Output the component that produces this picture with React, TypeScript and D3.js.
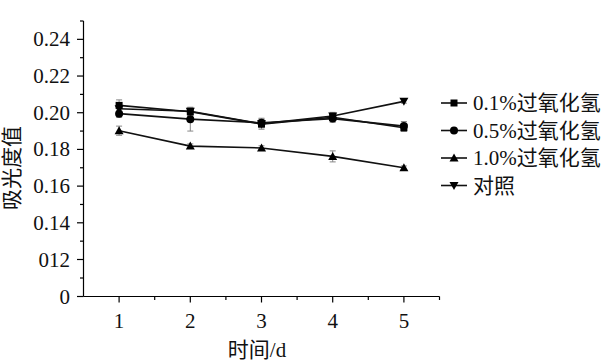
import React from "react";
import * as d3 from "d3";

const days = [1, 2, 3, 4, 5];
const seriesNames = ["0.1%过氧化氢", "0.5%过氧化氢", "1.0%过氧化氢", "对照"];
const h01 = [0.204, 0.2005, 0.1938, 0.1975, 0.1918];
const h05 = [0.1995, 0.1965, 0.1945, 0.1968, 0.1927];
const h10 = [0.1902, 0.1818, 0.1808, 0.1762, 0.1700];
const ctrl = [0.2022, 0.2008, 0.1940, 0.1982, 0.2062];
const e01 = [0.003, 0.002, 0.002, 0.002, 0.002];
const e05 = [0.002, 0.0065, 0.002, 0.002, 0.0025];
const e10 = [0.0025, 0.0012, 0.0012, 0.003, 0.001];
const e00 = [0.002, 0.002, 0.003, 0.002, 0.001];
const yTickValues = [0, 0.12, 0.14, 0.16, 0.18, 0.2, 0.22, 0.24];
const yTickLabels = ["0", "012", "0.14", "0.16", "0.18", "0.20", "0.22", "0.24"];
const yMinor = [0.06, 0.13, 0.15, 0.17, 0.19, 0.21, 0.23, 0.25];
const xMinor = [1.5, 2.5, 3.5, 4.5, 5.5];
const yTitle = "吸光度值";
const xTitle = "时间/d";

const FONT = "Liberation Serif, Noto Sans CJK SC, serif";

const series = [
  { name: seriesNames[0], values: h01, errs: e01, shape: "square" },
  { name: seriesNames[1], values: h05, errs: e05, shape: "circle" },
  { name: seriesNames[2], values: h10, errs: e10, shape: "triangle" },
  { name: seriesNames[3], values: ctrl, errs: e00, shape: "down" },
];

function Marker({ shape, x, y }: { shape: string; x: number; y: number }) {
  if (shape === "square") return <rect x={x - 3.5} y={y - 3.5} width={7} height={7} fill="#000" />;
  if (shape === "circle") return <circle cx={x} cy={y} r={4} fill="#000" />;
  if (shape === "triangle")
    return <path d={`M${x},${y - 4.5}L${x + 4.5},${y + 3.5}L${x - 4.5},${y + 3.5}Z`} fill="#000" />;
  return <path d={`M${x},${y + 4.5}L${x + 4.5},${y - 3.5}L${x - 4.5},${y - 3.5}Z`} fill="#000" />;
}

export default function App() {
  const x = d3.scaleLinear().domain([0.5, 5.5]).range([83.5, 439.5]);
  const y = d3.scaleLinear().domain([0, 0.12, 0.25]).range([296.5, 259.5, 21]);
  const line = d3
    .line<number>()
    .x((_, i) => x(days[i]))
    .y((v) => y(v));
  const txt = { fontFamily: FONT, fontSize: 21, fill: "#111" } as React.CSSProperties;

  return (
    <svg width={607} height={361} style={{ position: "absolute", left: 0, top: 0, background: "#fff" }}>
      {/* axes */}
      <line x1={83.5} x2={83.5} y1={y(0.25)} y2={y(0)} stroke="#000" strokeWidth={1.2} />
      <line x1={83.5} x2={439.5} y1={y(0)} y2={y(0)} stroke="#000" strokeWidth={1.2} />
      {yTickValues.map((v, i) => (
        <g key={"yt" + i}>
          <line x1={77} x2={83.5} y1={y(v)} y2={y(v)} stroke="#000" strokeWidth={1.2} />
          <text x={70} y={y(v) + 7} textAnchor="end" style={txt}>
            {yTickLabels[i]}
          </text>
        </g>
      ))}
      {yMinor.map((v, i) => (
        <line key={"ym" + i} x1={80} x2={83.5} y1={y(v)} y2={y(v)} stroke="#000" strokeWidth={1.2} />
      ))}
      {days.map((d) => (
        <g key={"xt" + d}>
          <line x1={x(d)} x2={x(d)} y1={y(0)} y2={y(0) + 6} stroke="#000" strokeWidth={1.2} />
          <text x={x(d)} y={328} textAnchor="middle" style={txt}>
            {d}
          </text>
        </g>
      ))}
      {xMinor.map((d, i) => (
        <line key={"xm" + i} x1={x(d)} x2={x(d)} y1={y(0)} y2={y(0) + 3.5} stroke="#000" strokeWidth={1.2} />
      ))}
      <text x={257} y={357} textAnchor="middle" style={txt}>
        {xTitle}
      </text>
      <text transform="translate(19,168) rotate(-90)" textAnchor="middle" style={txt}>
        {yTitle}
      </text>

      {/* error bars */}
      {series.map((s, si) =>
        s.values.map((v, i) => (
          <g key={`e${si}-${i}`} stroke="#888" strokeWidth={1}>
            <line x1={x(days[i])} x2={x(days[i])} y1={y(v - s.errs[i])} y2={y(v + s.errs[i])} />
            <line x1={x(days[i]) - 3} x2={x(days[i]) + 3} y1={y(v - s.errs[i])} y2={y(v - s.errs[i])} />
            <line x1={x(days[i]) - 3} x2={x(days[i]) + 3} y1={y(v + s.errs[i])} y2={y(v + s.errs[i])} />
          </g>
        ))
      )}
      {/* lines */}
      {series.map((s, si) => (
        <path key={"l" + si} d={line(s.values) || ""} fill="none" stroke="#111" strokeWidth={1.6} />
      ))}
      {series.map((s, si) =>
        s.values.map((v, i) => <Marker key={`m${si}-${i}`} shape={s.shape} x={x(days[i])} y={y(v)} />)
      )}

      {/* legend */}
      {series.map((s, si) => {
        const cy = 103 + si * 27.5;
        return (
          <g key={"lg" + si}>
            <line x1={441} x2={467} y1={cy} y2={cy} stroke="#111" strokeWidth={1.6} />
            <Marker shape={s.shape} x={454} y={cy} />
            <text x={473} y={cy + 7} style={txt}>
              {s.name}
            </text>
          </g>
        );
      })}
    </svg>
  );
}
